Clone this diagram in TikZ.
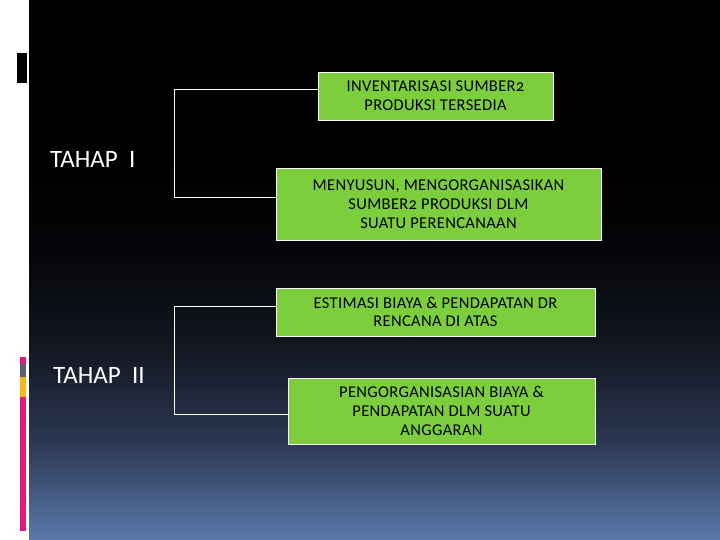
\documentclass[tikz,border=0pt]{standalone}
\usepackage{fontspec}
\setmainfont{Carlito}[Numbers=OldStyle]
\newfontfamily\boxfont{Carlito}[Numbers=OldStyle, LetterSpace=2]
\newfontfamily\tahapfont{Carlito}
\usetikzlibrary{calc}
\definecolor{boxgreen}{RGB}{125,206,60}
\definecolor{barpink}{RGB}{222,28,122}
\definecolor{bargrey}{RGB}{88,98,112}
\definecolor{baryellow}{RGB}{246,184,28}
\definecolor{bgA}{RGB}{91,121,171}
\definecolor{bgB}{RGB}{44,56,84}
\definecolor{bgC}{RGB}{18,22,32}
\definecolor{bgD}{RGB}{4,5,8}
\pgfdeclareverticalshading{slidebg}{100bp}{color(0bp)=(bgA); color(25bp)=(bgA); color(34bp)=(bgB); color(43bp)=(bgC); color(52bp)=(bgD); color(60bp)=(black); color(75bp)=(black); color(100bp)=(black)}
\tikzset{
  greenbox/.style={draw=white, line width=0.9pt, fill=boxgreen, inner sep=0pt, align=center, font=\boxfont\fontsize{16.5}{18.8}\selectfont, text=black},
  conn/.style={draw=white, line width=1pt},
  tahap/.style={text=white, anchor=base west, inner sep=0pt, font=\tahapfont\fontsize{25}{28}\selectfont}
}
\begin{document}
\begin{tikzpicture}[x=1pt,y=-1pt]
\useasboundingbox (0,0) rectangle (720,540);
\fill[white] (0,0) rectangle (720,540);
\shade[shading=slidebg] (29,0) rectangle (720,540);
% left decorations
\fill[black] (17,53) rectangle (27,83);
\fill[barpink] (20,357) rectangle (26,364);
\fill[bargrey] (20,364) rectangle (26,377);
\fill[baryellow] (20,377) rectangle (26,397);
\fill[barpink] (20,397) rectangle (26,531);
% boxes
\node[greenbox, minimum width=235pt, minimum height=48pt] (b1) at (435.5,96) {INVENTARISASI SUMBER2\\PRODUKSI TERSEDIA};
\node[greenbox, minimum width=325pt, minimum height=72pt] (b2) at (438.5,204) {MENYUSUN, MENGORGANISASIKAN\\SUMBER2 PRODUKSI DLM\\SUATU PERENCANAAN};
\node[greenbox, minimum width=319pt, minimum height=48pt] (b3) at (435.5,312) {ESTIMASI BIAYA \& PENDAPATAN DR\\RENCANA DI ATAS};
\node[greenbox, minimum width=307pt, minimum height=66pt] (b4) at (441.5,411) {PENGORGANISASIAN BIAYA \&\\PENDAPATAN DLM SUATU\\ANGGARAN};
% brackets
\coordinate (k1) at (174,198);
\coordinate (k2) at (174,414);
\draw[conn] ([yshift=6pt]b1.west) -| (k1) -- ([yshift=6pt]b2.west);
\draw[conn] ([yshift=6pt]b3.west) -| (k2) -- ([yshift=-3pt]b4.west);
% labels
\node[tahap] (t1) at (50,168) {TAHAP\hspace{0.45em}I};
\node[tahap] (t2) at (53,383) {TAHAP\hspace{0.45em}II};
\end{tikzpicture}
\end{document}
